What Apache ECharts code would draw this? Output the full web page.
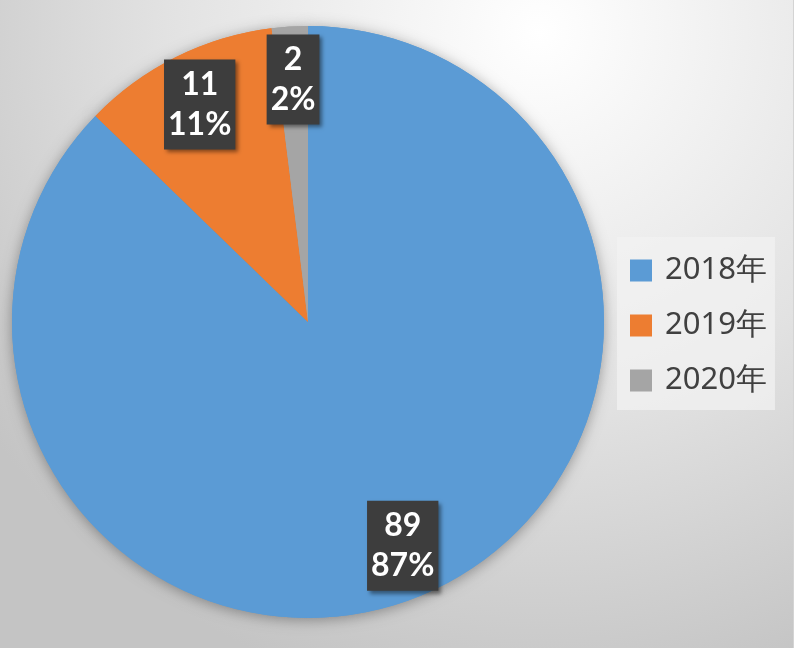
<!DOCTYPE html>
<html>
<head>
<meta charset="utf-8">
<script src="https://cdn.jsdelivr.net/npm/echarts@6/dist/echarts.min.js"></script>
<style>html,body{margin:0;padding:0;background:#fff}#c{width:800px;height:648px}</style>
</head>
<body>
<div id="c"></div>
<script>
var categories = ['2018年', '2019年', '2020年'];
var values = [89, 11, 2];
var colors = ['#5B9BD5', '#ED7D31', '#A5A5A5'];

function items() {
  return categories.map(function (n, i) { return { name: n, value: values[i], itemStyle: { color: colors[i] } }; });
}

var chart = echarts.init(document.getElementById('c'), null, { renderer: 'canvas' });
chart.setOption({
  animation: false,
  color: colors,
  graphic: [
    { type: 'rect', z: -10, silent: true, shape: { x: 0, y: 0, width: 793, height: 648 },
      style: { fill: { type: 'radial', x: 0.68, y: 0.05, r: 1.05,
        colorStops: [{ offset: 0, color: '#ffffff' }, { offset: 0.55, color: '#e2e2e2' }, { offset: 1, color: '#c4c4c4' }] } } },
    { type: 'rect', z: -10, silent: true, shape: { x: 793, y: 0, width: 7, height: 648 }, style: { fill: '#ffffff' } },
    { type: 'line', z: -9, silent: true, shape: { x1: 793.5, y1: 0, x2: 793.5, y2: 648 }, style: { stroke: '#d4d4d4', lineWidth: 1 } }
  ],
  legend: {
    orient: 'vertical',
    left: 617, top: 237,
    padding: [18, 8, 14, 13],
    backgroundColor: 'rgba(242,242,242,0.75)',
    itemWidth: 22, itemHeight: 22, itemGap: 24,
    icon: 'rect',
    data: categories,
    textStyle: { fontFamily: 'Noto Sans', fontSize: 31, color: '#404040', lineHeight: 26, padding: [0, 0, 0, 8] }
  },
  series: [
    {
      type: 'pie', silent: true, z: 1,
      center: [308, 322], radius: [0, 296],
      startAngle: 90, clockwise: true,
      label: { show: false }, labelLine: { show: false },
      itemStyle: { shadowBlur: 14, shadowColor: 'rgba(0,0,0,0.35)', shadowOffsetX: 0, shadowOffsetY: 2 },
      data: items()
    },
    {
      type: 'pie', silent: true, z: 2,
      center: [308, 322], radius: [0, 296],
      startAngle: 90, clockwise: true,
      label: { show: false }, labelLine: { show: false },
      itemStyle: { borderWidth: 0 },
      data: items()
    },
    {
      type: 'pie', silent: true, z: 3,
      center: [308, 322], radius: [184, 296],
      startAngle: 90, clockwise: true,
      percentPrecision: 0,
      itemStyle: { color: 'rgba(0,0,0,0)', borderWidth: 0 },
      labelLine: { show: false },
      label: {
        show: true, position: 'inside',
        formatter: '{c}\n{d}%',
        fontFamily: 'Lato', fontWeight: 'bold', fontSize: 32, color: '#ffffff',
        lineHeight: 40,
        backgroundColor: '#3d3d3d',
        padding: [6, 4, 4, 4],
        shadowColor: 'rgba(0,0,0,0.45)', shadowBlur: 4, shadowOffsetX: 3, shadowOffsetY: 3
      },
      data: categories.map(function (n, i) { return { name: n, value: values[i] }; })
    }
  ]
});
</script>
</body>
</html>
